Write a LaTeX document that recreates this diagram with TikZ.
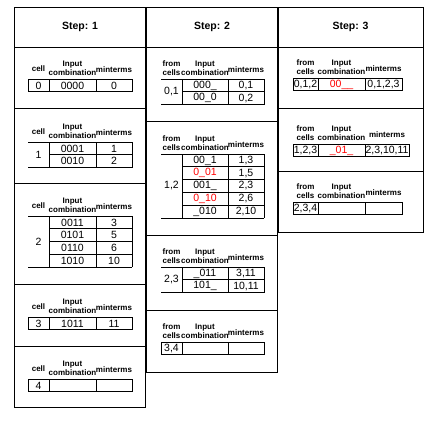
\documentclass[tikz,border=0pt]{standalone}
\usepackage{fontspec}
\setmainfont{Liberation Sans}
\usepackage{tikz}

% one small table: #1 name, #2-#5 x of the rules, #6 top, #7 rows, #8 cell text, #9 rows as comb/minterms
\newcommand{\qtab}[9]{%
  \node[lbl] (#1h1) at ({(#2+#3)/2},{#6-10.5}) {\qfirst};
  \node[lbl] (#1h2) at ({(#3+#4)/2},{#6-10.5}) {Input\\combination};
  \node[lbl] (#1h3) at ({(#4+#5)/2},{#6-9.5}) {minterms};
  \draw[tbl] (#2,#6) -- (#5,#6) (#2,{#6+12.8*#7}) -- (#5,{#6+12.8*#7});
  \draw[tbl] (#3,#6) -- (#3,{#6+12.8*#7}) (#4,#6) -- (#4,{#6+12.8*#7}) (#5,#6) -- (#5,{#6+12.8*#7});
  \ifnum#7=1 \draw[tbl] (#2,#6) -- (#2,{#6+12.8});\fi
  \node[val] (#1cell) at ({(#2+#3)/2},{#6+6.4*#7}) {#8};
  \foreach [count=\n] \cmb/\mnt in {#9} {
    \draw[tbl] (#3,{#6+12.8*\n}) -- (#5,{#6+12.8*\n});
    \node[val] (#1c\n) at ({(#3+#4)/2},{#6+12.8*\n-6.4}) {\cmb};
    \node[val] (#1m\n) at ({(#4+#5)/2},{#6+12.8*\n-6.4}) {\mnt};
  }
}

\begin{document}
\begin{tikzpicture}[x=1pt,y=-1pt]
    \tikzstyle{frame}=[draw=black, line width=0.9pt]
    \tikzstyle{tbl}=[draw=black, line width=0.75pt]
    \tikzstyle{hd}=[font=\bfseries\fontsize{10.5}{12}\selectfont]
    \tikzstyle{lbl}=[font=\bfseries\fontsize{8}{9}\selectfont, align=center, inner sep=0pt]
    \tikzstyle{val}=[font=\fontsize{10.5}{12}\selectfont, inner sep=0pt]
    \useasboundingbox (0,0) rectangle (443,420);
    % the three step columns
    \draw[frame] (14,7) rectangle (145.3,407);
    \foreach \y in {47,108,183,284,346} \draw[frame] (14,\y) -- (145.3,\y);
    \draw[frame] (146.7,7) rectangle (277.3,372);
    \foreach \y in {47,121,235,310} \draw[frame] (146.7,\y) -- (277.3,\y);
    \draw[frame] (278.7,7) rectangle (423,232);
    \foreach \y in {47,108,171} \draw[frame] (278.7,\y) -- (423,\y);
    \node[hd] (step1) at (80,27) {Step: 1};
    \node[hd] (step2) at (212,27) {Step: 2};
    \node[hd] (step3) at (350.5,27) {Step: 3};
    % step 1
    \def\qfirst{cell}
    \qtab{a}{28}{49}{96}{132}{79}{1}{0}{0000/0}
    \qtab{b}{28}{49}{96}{132}{142}{2}{1}{0001/1, 0010/2}
    \qtab{c}{28}{49}{96}{132}{216}{4}{2}{0011/3, 0101/5, 0110/6, 1010/10}
    \qtab{d}{28}{49}{96}{132}{317}{1}{3}{1011/11}
    \qtab{e}{28}{49}{96}{132}{379}{1}{4}{~/~}
    % step 2
    \def\qfirst{from\\cells}
    \qtab{f}{161}{182}{228}{264}{79}{2}{0,1}{000\_/{0,1}, 00\_0/{0,2}}
    \qtab{g}{161}{182}{228}{264}{154}{5}{1,2}{00\_1/{1,3}, \textcolor{red}{0\_01}/{1,5}, 001\_/{2,3}, \textcolor{red}{0\_10}/{2,6}, \_010/{2,10}}
    \qtab{h}{161}{182}{228}{264}{267}{2}{2,3}{\_011/{3,11}, 101\_/{10,11}}
    \qtab{i}{161}{182}{228}{264}{342}{1}{3,4}{~/~}
    % step 3
    \qtab{j}{293}{318}{365}{402}{78}{1}{0,1,2}{\textcolor{red}{00\_\_}/{0,1,2,3}}
    \qtab{k}{293}{318}{365}{409}{144}{1}{1,2,3}{\textcolor{red}{\_01\_}/{2,3,10,11}}
    \qtab{l}{293}{318}{365}{402}{202}{1}{2,3,4}{~/~}
\end{tikzpicture}
\end{document}
